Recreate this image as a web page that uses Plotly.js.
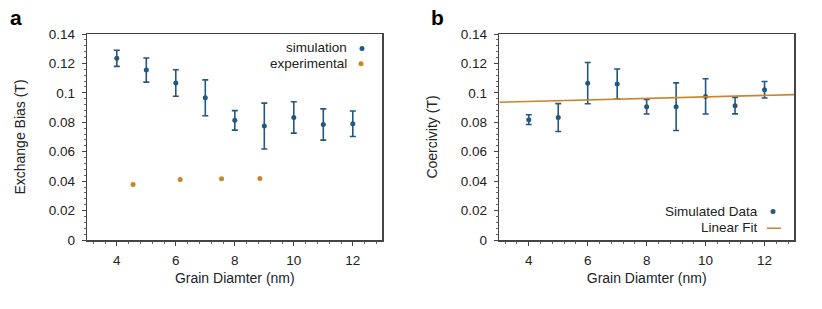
<!DOCTYPE html>
<html>
<head>
<meta charset="utf-8">
<script src="https://cdn.plot.ly/plotly-3.0.1.min.js"></script>
<style>html,body{margin:0;padding:0;background:#fff;}#chart{width:822px;height:309px;}</style>
</head>
<body>
<div id="chart"></div>
<script>
// Panel a: exchange bias
const diameters = [4, 5, 6, 7, 8, 9, 10, 11, 12];
const exchangeBias = [0.1235, 0.1155, 0.1067, 0.0966, 0.0813, 0.0774, 0.0833, 0.0785, 0.0790];
const exchangeBiasErr = [0.0055, 0.0082, 0.0090, 0.0122, 0.0066, 0.0156, 0.0107, 0.0106, 0.0087];
const expDiameters = [4.55, 6.15, 7.55, 8.85];
const expExchangeBias = [0.0378, 0.0411, 0.0417, 0.0418];

// Panel b: coercivity
const coercivity = [0.0818, 0.0832, 0.1066, 0.1060, 0.0906, 0.0906, 0.0976, 0.0913, 0.1021];
const coercivityErr = [0.0033, 0.0095, 0.0140, 0.0102, 0.0050, 0.0162, 0.0120, 0.0056, 0.0056];
const fitX = [3, 13];
const fitY = [0.0936, 0.0988];

const xTickVals = [4, 6, 8, 10, 12];
const yTickVals = [0, 0.02, 0.04, 0.06, 0.08, 0.1, 0.12, 0.14];
const yTickText = ['0', '0.02', '0.04', '0.06', '0.08', '0.1', '0.12', '0.14'];

const labels = {
  xTitle: 'Grain Diamter (nm)',
  yTitleA: 'Exchange Bias (T)',
  yTitleB: 'Coercivity (T)',
  simA: 'simulation',
  expA: 'experimental',
  simB: 'Simulated Data',
  fitB: 'Linear Fit'
};

const BLUE = '#24577f';
const ORANGE = '#c98529';
const FONT = 'Liberation Sans, Arial, Helvetica, sans-serif';
const TXT = '#222';

const traces = [
  {x: diameters, y: exchangeBias, type: 'scatter', mode: 'markers', name: '',
   xaxis: 'x', yaxis: 'y', legend: 'legend',
   marker: {color: BLUE, size: 5},
   error_y: {type: 'data', array: exchangeBiasErr, visible: true, color: BLUE, thickness: 1.6, width: 3}},
  {x: expDiameters, y: expExchangeBias, type: 'scatter', mode: 'markers', name: '',
   xaxis: 'x', yaxis: 'y', legend: 'legend2',
   marker: {color: ORANGE, size: 5}},
  {x: diameters, y: coercivity, type: 'scatter', mode: 'markers', name: '',
   xaxis: 'x2', yaxis: 'y2', legend: 'legend3',
   marker: {color: BLUE, size: 5},
   error_y: {type: 'data', array: coercivityErr, visible: true, color: BLUE, thickness: 1.6, width: 3}},
  {x: fitX, y: fitY, type: 'scatter', mode: 'lines', name: '', showlegend: false,
   xaxis: 'x2', yaxis: 'y2',
   line: {color: ORANGE, width: 1.6}},
  // legend-only key for the fit line (short dash like the reference key)
  {x: [null], y: [null], type: 'scatter', mode: 'markers', name: '',
   xaxis: 'x2', yaxis: 'y2', legend: 'legend4',
   marker: {symbol: 'line-ew-open', size: 10, color: ORANGE, line: {color: ORANGE, width: 1.6}}}
];

function xAxis(domain, anchor) {
  return {
    domain: domain, anchor: anchor, range: [3, 13],
    tickvals: xTickVals, ticks: 'outside', ticklen: 4, tickwidth: 1, tickcolor: '#444',
    ticklabelstandoff: 3,
    minor: {dtick: 0.4, tick0: 4, ticks: 'outside', ticklen: 2, tickcolor: '#666'},
    showline: true, linecolor: '#444', linewidth: 1.5, mirror: true,
    showgrid: false, zeroline: false,
    tickfont: {family: FONT, size: 13.5, color: TXT},
    title: {text: labels.xTitle, font: {family: FONT, size: 14, color: TXT}, standoff: 6}
  };
}
function yAxis(domain, anchor, title) {
  return {
    domain: domain, anchor: anchor, range: [0, 0.14],
    tickvals: yTickVals, ticktext: yTickText, ticks: 'outside', ticklen: 4, tickwidth: 1, tickcolor: '#444',
    ticklabelstandoff: 4,
    minor: {dtick: 0.004, tick0: 0, ticks: 'outside', ticklen: 2, tickcolor: '#666'},
    showline: true, linecolor: '#444', linewidth: 1.5, mirror: true,
    showgrid: false, zeroline: false,
    tickfont: {family: FONT, size: 13.5, color: TXT},
    title: {text: title, font: {family: FONT, size: 14, color: TXT}, standoff: 20}
  };
}

const legendBase = {xanchor: 'left', yanchor: 'top', bgcolor: 'rgba(0,0,0,0)',
                    borderwidth: 0, itemwidth: 30, tracegroupgap: 0, font: {family: FONT, size: 8}};

const layout = {
  width: 822, height: 309,
  margin: {l: 0, r: 0, t: 34, b: 69},
  paper_bgcolor: '#fff', plot_bgcolor: '#fff',
  font: {family: FONT, size: 13, color: TXT},
  showlegend: true,
  xaxis: xAxis([87.3 / 822, 382.3 / 822], 'y'),
  yaxis: yAxis([0, 1], 'x', labels.yTitleA),
  xaxis2: xAxis([499.3 / 822, 794 / 822], 'y2'),
  yaxis2: yAxis([0, 1], 'x2', labels.yTitleB),
  legend: Object.assign({}, legendBase, {x: 342 / 822, y: 1.0}),
  legend2: Object.assign({}, legendBase, {x: 341 / 822, y: 0.9257}),
  legend3: Object.assign({}, legendBase, {x: 753 / 822, y: 0.2087}),
  legend4: Object.assign({}, legendBase, {x: 754 / 822, y: 0.1277}),
  annotations: [
    {text: '<b>a</b>', xref: 'paper', yref: 'paper', x: 8 / 822, y: (240 - 17) / 206, xanchor: 'left', yanchor: 'middle', showarrow: false, font: {family: FONT, size: 21, color: '#000'}},
    {text: '<b>b</b>', xref: 'paper', yref: 'paper', x: 429 / 822, y: (240 - 17) / 206, xanchor: 'left', yanchor: 'middle', showarrow: false, font: {family: FONT, size: 21, color: '#000'}},
    {text: labels.simA, xref: 'paper', yref: 'paper', x: 349 / 822, y: (240 - 47.7) / 206, xanchor: 'right', yanchor: 'middle', showarrow: false, font: {family: FONT, size: 13.5, color: TXT}},
    {text: labels.expA, xref: 'paper', yref: 'paper', x: 349 / 822, y: (240 - 63.3) / 206, xanchor: 'right', yanchor: 'middle', showarrow: false, font: {family: FONT, size: 13.5, color: TXT}},
    {text: labels.simB, xref: 'paper', yref: 'paper', x: 760 / 822, y: (240 - 211) / 206, xanchor: 'right', yanchor: 'middle', showarrow: false, font: {family: FONT, size: 13.5, color: TXT}},
    {text: labels.fitB, xref: 'paper', yref: 'paper', x: 760 / 822, y: (240 - 227.7) / 206, xanchor: 'right', yanchor: 'middle', showarrow: false, font: {family: FONT, size: 13.5, color: TXT}}
  ]
};

Plotly.newPlot('chart', traces, layout, {staticPlot: true, displayModeBar: false});
</script>
</body>
</html>
